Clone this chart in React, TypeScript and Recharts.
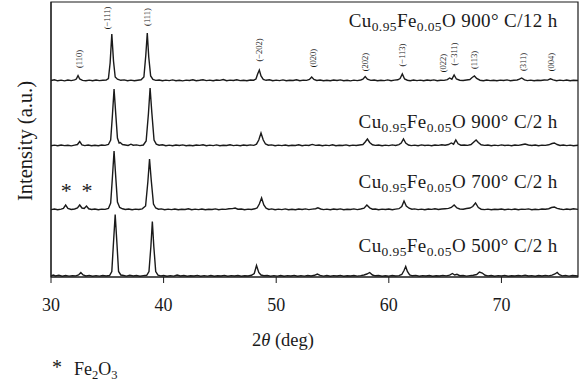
import { LineChart, Line, XAxis, YAxis, ReferenceDot, ReferenceArea } from 'recharts'

const FONT = '"Liberation Serif", "Times New Roman", serif'
const INK = '#1a1a1a'

const X_DOMAIN: [number, number] = [30, 76.8]
const Y_DOMAIN: [number, number] = [0, 275]
const X_TICKS = [30, 40, 50, 60, 70]
const Y_MINOR = [5, 12, 18, 25, 31, 38, 45, 52, 58, 65, 72, 78, 85, 92, 98, 105, 112, 118, 125, 132, 138, 145, 152, 158, 165, 172, 178, 185, 192, 198, 205, 212, 218, 225, 232, 238, 245, 252, 258, 265, 271]

const SAMPLE_NAMES = ['900° C/12 h', '900° C/2 h', '700° C/2 h', '500° C/2 h']
// vertical stacking of the four patterns (a.u.)
const OFFSETS = [196, 131, 67, 0.5]
// where each sample name sits (2theta of right edge, a.u. of baseline)
const NAME_X = [75, 75, 75, 75]
const NAME_Y = [250, 149, 89, 25]

const HKL_LABELS = ['(110)', '(−111)', '(111)', '(−202)', '(020)', '(202)', '(−113)', '(022)', '(−311)', '(113)', '(311)', '(004)']
const HKL_X = [32.5, 35.0, 38.5, 48.5, 53.3, 57.9, 61.2, 64.8, 65.8, 67.6, 71.9, 74.4]
const HKL_Y = [218, 259, 260, 227, 219, 215, 222, 214, 223, 217, 215, 215]

const STAR_X = [31.35, 33.2]
const STAR_Y = [87, 87]

const T_900_12: [number, number][] = [
  [30, 0.5], [30.3, 1.2], [30.6, 0.2], [30.9, 0.9], [31.2, 0.1], [31.5, 1], [31.8, 0.4], [32.1, 1.1], [32.25, 2], [32.4, 5.5], [32.55, 2],
  [32.8, 0.6], [33.1, 0.2], [33.4, 0.9], [33.7, 0.3], [34, 1], [34.3, 0.4], [34.6, 0.8], [34.9, 0.9], [35.1, 2.5], [35.25, 18], [35.4, 47],
  [35.55, 20], [35.7, 4], [35.9, 1.8], [36.2, 0.7], [36.5, 1.1], [36.8, 0.3], [37.1, 0.9], [37.4, 0.2], [37.7, 0.8], [38, 1.2], [38.25, 4],
  [38.42, 26], [38.55, 48], [38.68, 24], [38.85, 5], [39.05, 1.5], [39.3, 0.6], [39.6, 1], [39.9, 0.2], [40.2, 0.9], [40.5, 0.4], [40.8, 1.1],
  [41.1, 0.3], [41.4, 0.8], [41.7, 0.1], [42, 0.9], [42.3, 0.5], [42.6, 1.2], [42.9, 0.3], [43.2, 0.7], [43.5, 1.3], [43.8, 0.4], [44.1, 0.9],
  [44.4, 0.2], [44.7, 1], [45, 0.6], [45.3, 1.4], [45.6, 0.3], [45.9, 0.9], [46.2, 0.5], [46.5, 1.2], [46.8, 0.4], [47.1, 0.8], [47.4, 0.2],
  [47.7, 1], [48, 0.8], [48.2, 2], [48.35, 7], [48.5, 11], [48.65, 5], [48.85, 1.5], [49.1, 0.7], [49.4, 1.2], [49.7, 0.3], [50, 0.9],
  [50.3, 0.4], [50.6, 1.1], [50.9, 0.2], [51.2, 0.8], [51.5, 0.5], [51.8, 1.2], [52.1, 0.3], [52.4, 0.9], [52.7, 0.6], [52.95, 1.5], [53.15, 4],
  [53.35, 1.6], [53.6, 0.5], [53.9, 1], [54.2, 0.3], [54.5, 0.8], [54.8, 0.2], [55.1, 1], [55.4, 0.5], [55.7, 1.1], [56, 0.3], [56.3, 0.7],
  [56.6, 0.1], [56.9, 0.9], [57.2, 0.4], [57.5, 1], [57.7, 1.8], [57.9, 4.5], [58.1, 1.8], [58.4, 0.6], [58.7, 1], [59, 0.2], [59.3, 0.8],
  [59.6, 0.4], [59.9, 1.1], [60.2, 0.3], [60.5, 0.9], [60.8, 1.2], [61, 2.5], [61.2, 7], [61.4, 2], [61.65, 0.8], [61.9, 0.3], [62.2, 1],
  [62.5, 0.4], [62.8, 0.9], [63.1, 0.2], [63.4, 1], [63.7, 0.5], [64, 1.1], [64.3, 0.3], [64.6, 0.8], [64.9, 0.6], [65.2, 1.4], [65.4, 3],
  [65.6, 1.8], [65.8, 6], [66, 2], [66.3, 0.8], [66.6, 0.5], [66.9, 1], [67.2, 1.5], [67.4, 3.5], [67.6, 5], [67.8, 2.5], [68.1, 0.8],
  [68.4, 0.3], [68.7, 1], [69, 0.4], [69.3, 0.8], [69.6, 0.2], [69.9, 0.9], [70.2, 0.5], [70.5, 1.1], [70.8, 0.3], [71.1, 0.8], [71.4, 1],
  [71.6, 1.8], [71.8, 3], [72.05, 1.2], [72.3, 0.4], [72.6, 0.9], [72.9, 0.2], [73.2, 0.8], [73.5, 0.5], [73.8, 1], [74.1, 0.9], [74.35, 2.2],
  [74.6, 1.1], [74.9, 0.3], [75.2, 0.9], [75.5, 0.4], [75.8, 1], [76.1, 0.3], [76.4, 0.8], [76.8, 0.5],
]

const T_900_2: [number, number][] = [
  [30, 0.3], [30.3, 0.9], [30.6, 0.2], [30.9, 1], [31.2, 0.4], [31.5, 0.8], [31.8, 0.1], [32.1, 0.9], [32.35, 1.5], [32.55, 4.5], [32.75, 1.2],
  [33, 0.4], [33.3, 1], [33.6, 0.3], [33.9, 0.8], [34.2, 0.2], [34.5, 1], [34.8, 0.6], [35.1, 1.5], [35.3, 6], [35.45, 30], [35.6, 57],
  [35.75, 32], [35.9, 8], [36.05, 3], [36.15, 3.5], [36.35, 1.5], [36.6, 1], [36.85, 0.5], [37.1, 1.8], [37.3, 0.8], [37.6, 1.1], [37.9, 0.4],
  [38.2, 1], [38.45, 5], [38.65, 32], [38.8, 58], [38.95, 34], [39.15, 6], [39.35, 1.8], [39.6, 0.8], [39.9, 1.2], [40.2, 0.3], [40.5, 0.9],
  [40.8, 0.2], [41.1, 1], [41.4, 0.5], [41.7, 1.1], [42, 0.3], [42.3, 0.8], [42.6, 0.2], [42.9, 1], [43.2, 0.6], [43.5, 1.2], [43.8, 0.3],
  [44.1, 0.9], [44.4, 0.4], [44.7, 1.1], [45, 0.2], [45.3, 0.8], [45.6, 0.5], [45.9, 1.3], [46.2, 0.4], [46.5, 0.9], [46.8, 0.2], [47.1, 1],
  [47.4, 0.5], [47.7, 1.1], [48, 0.6], [48.25, 1.8], [48.45, 6], [48.65, 13], [48.85, 6], [49.05, 2], [49.3, 0.8], [49.6, 1.1], [49.9, 0.3],
  [50.2, 0.9], [50.5, 0.4], [50.8, 1], [51.1, 0.2], [51.4, 0.8], [51.7, 0.5], [52, 1.2], [52.3, 0.3], [52.6, 0.9], [52.9, 0.5], [53.2, 1.6],
  [53.5, 0.6], [53.8, 1], [54.1, 0.3], [54.4, 0.9], [54.7, 0.4], [55, 1.2], [55.3, 0.3], [55.6, 0.8], [55.9, 0.5], [56.2, 1.1], [56.5, 0.2],
  [56.8, 0.9], [57.1, 0.5], [57.4, 1], [57.7, 1.5], [57.9, 4], [58.1, 7], [58.3, 3.5], [58.55, 1.2], [58.8, 0.6], [59.1, 1], [59.4, 0.3],
  [59.7, 0.9], [60, 0.4], [60.3, 1.1], [60.6, 0.5], [60.9, 1.4], [61.1, 3], [61.3, 7], [61.5, 3], [61.75, 1], [62, 0.4], [62.3, 0.9],
  [62.6, 0.3], [62.9, 1.1], [63.2, 0.5], [63.5, 0.9], [63.8, 0.2], [64.1, 1], [64.4, 0.6], [64.7, 1.2], [65, 0.8], [65.3, 1.5], [65.55, 3],
  [65.75, 1.8], [65.95, 6], [66.15, 2.2], [66.4, 0.8], [66.7, 1], [67, 0.6], [67.3, 1.5], [67.55, 4], [67.75, 6], [67.95, 3.5], [68.2, 1.2],
  [68.5, 0.6], [68.8, 1], [69.1, 0.3], [69.4, 0.9], [69.7, 0.4], [70, 1.1], [70.3, 0.5], [70.6, 0.9], [70.9, 0.3], [71.2, 1], [71.5, 0.6],
  [71.8, 1.3], [72.1, 2], [72.4, 1], [72.7, 0.5], [73, 1], [73.3, 0.3], [73.6, 0.9], [73.9, 0.6], [74.2, 1.2], [74.5, 2.5], [74.7, 3],
  [74.95, 1.5], [75.2, 0.5], [75.5, 1], [75.8, 0.4], [76.1, 0.9], [76.4, 0.3], [76.8, 0.7],
]

const T_700_2: [number, number][] = [
  [30, 0.4], [30.3, 1], [30.6, 0.3], [30.9, 0.9], [31.1, 1.5], [31.3, 5], [31.5, 1.5], [31.8, 0.5], [32.1, 1], [32.35, 2], [32.55, 5],
  [32.75, 2], [32.95, 1.5], [33.15, 4], [33.35, 1.2], [33.6, 0.5], [33.9, 1], [34.2, 0.3], [34.5, 0.9], [34.8, 0.6], [35.1, 1.6], [35.3, 7],
  [35.45, 32], [35.6, 59], [35.75, 33], [35.9, 8], [36.1, 2.5], [36.35, 1.2], [36.6, 0.5], [36.9, 1], [37.2, 0.3], [37.5, 0.9], [37.8, 0.5],
  [38.1, 1.1], [38.4, 4], [38.6, 28], [38.75, 51], [38.9, 30], [39.1, 6], [39.3, 2], [39.55, 0.8], [39.8, 1.1], [40.1, 0.3], [40.4, 0.9],
  [40.7, 0.4], [41, 1], [41.3, 0.2], [41.6, 0.8], [41.9, 0.5], [42.2, 1.2], [42.5, 0.3], [42.8, 0.9], [43.1, 0.4], [43.4, 1], [43.7, 0.2],
  [44, 0.8], [44.3, 0.5], [44.6, 1.1], [44.9, 0.3], [45.2, 0.9], [45.5, 0.6], [45.8, 1.2], [46.1, 1.4], [46.35, 2], [46.6, 0.8], [46.9, 1],
  [47.2, 0.3], [47.5, 0.9], [47.8, 0.5], [48.1, 1.2], [48.3, 2], [48.5, 6], [48.7, 12], [48.9, 5], [49.1, 1.8], [49.35, 0.6], [49.6, 1.1],
  [49.9, 0.3], [50.2, 0.9], [50.5, 0.4], [50.8, 1.1], [51.1, 0.3], [51.4, 0.8], [51.7, 0.2], [52, 1], [52.3, 0.5], [52.6, 1.1], [52.9, 0.4],
  [53.2, 0.9], [53.5, 1.3], [53.7, 2.2], [53.95, 1], [54.2, 0.4], [54.5, 0.9], [54.8, 0.3], [55.1, 1], [55.4, 0.5], [55.7, 1.1], [56, 0.2],
  [56.3, 0.8], [56.6, 0.5], [56.9, 1.1], [57.2, 0.4], [57.5, 1], [57.8, 1.8], [58.05, 5], [58.3, 2.2], [58.55, 0.8], [58.8, 1], [59.1, 0.3],
  [59.4, 0.9], [59.7, 0.5], [60, 1], [60.3, 0.3], [60.6, 0.9], [60.9, 1.3], [61.15, 3.5], [61.35, 9], [61.55, 4], [61.8, 1.8], [62.05, 0.8],
  [62.3, 1.1], [62.6, 0.4], [62.9, 0.9], [63.2, 0.3], [63.5, 1], [63.8, 0.6], [64.1, 1.2], [64.4, 0.5], [64.7, 1], [65, 1.3], [65.3, 1.6],
  [65.55, 2.5], [65.8, 5], [66.05, 2], [66.3, 1], [66.6, 0.8], [66.9, 1.5], [67.2, 2], [67.45, 3.5], [67.7, 7], [67.95, 2.5], [68.2, 0.8],
  [68.5, 0.4], [68.8, 0.9], [69.1, 0.3], [69.4, 0.8], [69.7, 0.5], [70, 1], [70.3, 0.2], [70.6, 0.9], [70.9, 0.4], [71.2, 1], [71.5, 0.3],
  [71.8, 0.9], [72.1, 0.6], [72.4, 1.1], [72.7, 0.3], [73, 0.8], [73.3, 0.4], [73.6, 1], [73.9, 0.7], [74.2, 1.3], [74.45, 2.5], [74.7, 3],
  [74.95, 1.6], [75.2, 1], [75.5, 0.4], [75.8, 1], [76.1, 0.5], [76.4, 1.2], [76.8, 0.6],
]

const T_500_2: [number, number][] = [
  [30, 0.6], [30.2, 1.5], [30.4, 0.5], [30.7, 1.2], [31, 0.3], [31.3, 1], [31.6, 0.4], [31.9, 0.9], [32.2, 0.6], [32.45, 1.5], [32.65, 4],
  [32.85, 1.5], [33.1, 0.5], [33.4, 1.1], [33.7, 0.3], [34, 0.9], [34.3, 0.4], [34.6, 1], [34.9, 0.5], [35.2, 1], [35.4, 5], [35.55, 34],
  [35.7, 62], [35.85, 34], [36, 5], [36.2, 1.5], [36.45, 1], [36.7, 0.4], [37, 1.2], [37.3, 0.5], [37.6, 1], [37.9, 0.3], [38.2, 0.9],
  [38.5, 1.2], [38.7, 5], [38.87, 30], [39, 55], [39.13, 30], [39.3, 5], [39.5, 1.3], [39.75, 0.6], [40, 1], [40.3, 0.3], [40.6, 0.9],
  [40.9, 0.4], [41.2, 1.4], [41.5, 0.5], [41.8, 1], [42.1, 0.3], [42.4, 0.8], [42.7, 0.5], [43, 1.1], [43.3, 0.3], [43.6, 0.9], [43.9, 0.4],
  [44.2, 1], [44.5, 0.2], [44.8, 0.8], [45.1, 0.5], [45.4, 1.1], [45.7, 0.3], [46, 0.9], [46.3, 0.5], [46.6, 1], [46.9, 0.3], [47.2, 0.8],
  [47.5, 0.5], [47.8, 1.2], [48.05, 3], [48.25, 11], [48.45, 4], [48.65, 1.5], [48.9, 0.8], [49.2, 1], [49.5, 0.3], [49.8, 0.9], [50.1, 0.4],
  [50.4, 1], [50.7, 0.3], [51, 0.9], [51.3, 0.5], [51.6, 1.1], [51.9, 0.2], [52.2, 0.9], [52.5, 0.4], [52.8, 1], [53.1, 0.5], [53.4, 1.2],
  [53.65, 2.5], [53.9, 1.1], [54.2, 0.4], [54.5, 1], [54.8, 0.3], [55.1, 0.9], [55.4, 0.5], [55.7, 1.1], [56, 0.3], [56.3, 0.8], [56.6, 0.5],
  [56.9, 1], [57.2, 0.4], [57.5, 0.9], [57.8, 1.5], [58.05, 2.5], [58.3, 4], [58.55, 1.5], [58.8, 0.7], [59.1, 1], [59.4, 0.3], [59.7, 0.8],
  [60, 0.4], [60.3, 1], [60.6, 0.5], [60.9, 0.9], [61.15, 2], [61.35, 6], [61.5, 10], [61.65, 5], [61.85, 1.5], [62.1, 0.7], [62.4, 1.1],
  [62.7, 0.3], [63, 0.9], [63.3, 0.5], [63.6, 1], [63.9, 0.3], [64.2, 0.8], [64.5, 0.5], [64.8, 1.1], [65.1, 0.6], [65.4, 1.3], [65.65, 3],
  [65.85, 1.5], [66.05, 2.2], [66.3, 0.8], [66.6, 1], [66.9, 0.4], [67.2, 0.9], [67.5, 1.2], [67.8, 2], [68.05, 4.5], [68.3, 3.5], [68.55, 1.2],
  [68.8, 0.6], [69.1, 1], [69.4, 0.3], [69.7, 0.9], [70, 0.5], [70.3, 1.1], [70.6, 0.3], [70.9, 0.8], [71.2, 0.5], [71.5, 1], [71.8, 0.6],
  [72.1, 1.4], [72.4, 0.5], [72.7, 0.9], [73, 0.3], [73.3, 1], [73.6, 0.5], [73.9, 1.1], [74.2, 0.6], [74.5, 1.3], [74.75, 2.5], [74.95, 4],
  [75.15, 1.8], [75.4, 0.6], [75.7, 1.1], [76, 0.4], [76.3, 1], [76.8, 0.5],
]

const TRACES = [T_900_12, T_900_2, T_700_2, T_500_2]

const series = TRACES.map((t, i) => t.map(([x, y]) => ({ x, y: y + OFFSETS[i] })))

function hklLabel(text: string) {
  return (props: any) => {
    const { x, y } = props.viewBox
    return (
      <text
        x={x}
        y={y}
        transform={`rotate(-90 ${x} ${y})`}
        textAnchor="middle"
        dominantBaseline="central"
        fontSize={8.5}
        fontFamily={FONT}
        fill={INK}
      >
        {text}
      </text>
    )
  }
}

function sampleLabel(name: string) {
  return (props: any) => {
    const { x, y } = props.viewBox
    return (
      <text x={x} y={y} textAnchor="end" fontSize={19} letterSpacing={0.4} fontFamily={FONT} fill={INK}>
        <tspan>Cu</tspan>
        <tspan fontSize={13.5} dy={4}>0.95</tspan>
        <tspan dy={-4}>Fe</tspan>
        <tspan fontSize={13.5} dy={4}>0.05</tspan>
        <tspan dy={-4}>O {name}</tspan>
      </text>
    )
  }
}

function starLabel(props: any) {
  const { x, y } = props.viewBox
  return (
    <text x={x} y={y} textAnchor="middle" dominantBaseline="central" fontSize={22} fontFamily={FONT} fill={INK}>
      *
    </text>
  )
}

export default function App() {
  return (
    <div style={{ position: 'absolute', left: 0, top: 0, width: 581, height: 383, background: '#fff' }}>
      <LineChart width={581} height={383} margin={{ top: 2, right: 3, bottom: 76, left: 51 }}>
        <XAxis
          type="number"
          dataKey="x"
          domain={X_DOMAIN}
          ticks={X_TICKS}
          allowDataOverflow
          height={30}
          tickSize={6}
          tickMargin={15}
          stroke={INK}
          tick={{ fill: INK, fontSize: 18, fontFamily: FONT }}
        />
        <YAxis
          type="number"
          domain={Y_DOMAIN}
          ticks={Y_MINOR}
          width={1}
          mirror
          tick={false}
          tickSize={2}
          stroke={INK}
          allowDataOverflow
        />
        <ReferenceArea
          x1={X_DOMAIN[0]}
          x2={X_DOMAIN[1]}
          y1={Y_DOMAIN[0]}
          y2={Y_DOMAIN[1]}
          fill="none"
          fillOpacity={0}
          stroke={INK}
          strokeWidth={1.2}
          ifOverflow="visible"
        />
        {series.map((d, i) => (
          <Line
            key={SAMPLE_NAMES[i]}
            data={d}
            dataKey="y"
            type="linear"
            stroke={INK}
            strokeWidth={1.4}
            dot={false}
            isAnimationActive={false}
          />
        ))}
        {HKL_LABELS.map((h, i) => (
          <ReferenceDot key={h} x={HKL_X[i]} y={HKL_Y[i]} r={0} fill="none" stroke="none" label={hklLabel(h)} />
        ))}
        {SAMPLE_NAMES.map((n, i) => (
          <ReferenceDot key={n} x={NAME_X[i]} y={NAME_Y[i]} r={0} fill="none" stroke="none" label={sampleLabel(n)} />
        ))}
        {STAR_X.map((sx, i) => (
          <ReferenceDot key={sx} x={sx} y={STAR_Y[i]} r={0} fill="none" stroke="none" label={starLabel} />
        ))}
      </LineChart>
      <svg width={581} height={383} style={{ position: 'absolute', left: 0, top: 0, pointerEvents: 'none' }}>
        <text
          x={25}
          y={141}
          transform="rotate(-90 25 141)"
          textAnchor="middle"
          dominantBaseline="central"
          fontSize={20.5}
          fontFamily={FONT}
          fill={INK}
        >
          Intensity (a.u.)
        </text>
        <text x={283} y={346} textAnchor="middle" fontSize={18.5} fontFamily={FONT} fill={INK}>
          2<tspan fontStyle="italic">θ</tspan> (deg)
        </text>
        <text x={57} y={374} textAnchor="middle" fontSize={20} fontFamily={FONT} fill={INK}>
          *
        </text>
        <text x={74} y={375} fontSize={18} fontFamily={FONT} fill={INK}>
          Fe<tspan fontSize={12.5} dy={4}>2</tspan>
          <tspan dy={-4}>O</tspan>
          <tspan fontSize={12.5} dy={4}>3</tspan>
        </text>
      </svg>
    </div>
  )
}
